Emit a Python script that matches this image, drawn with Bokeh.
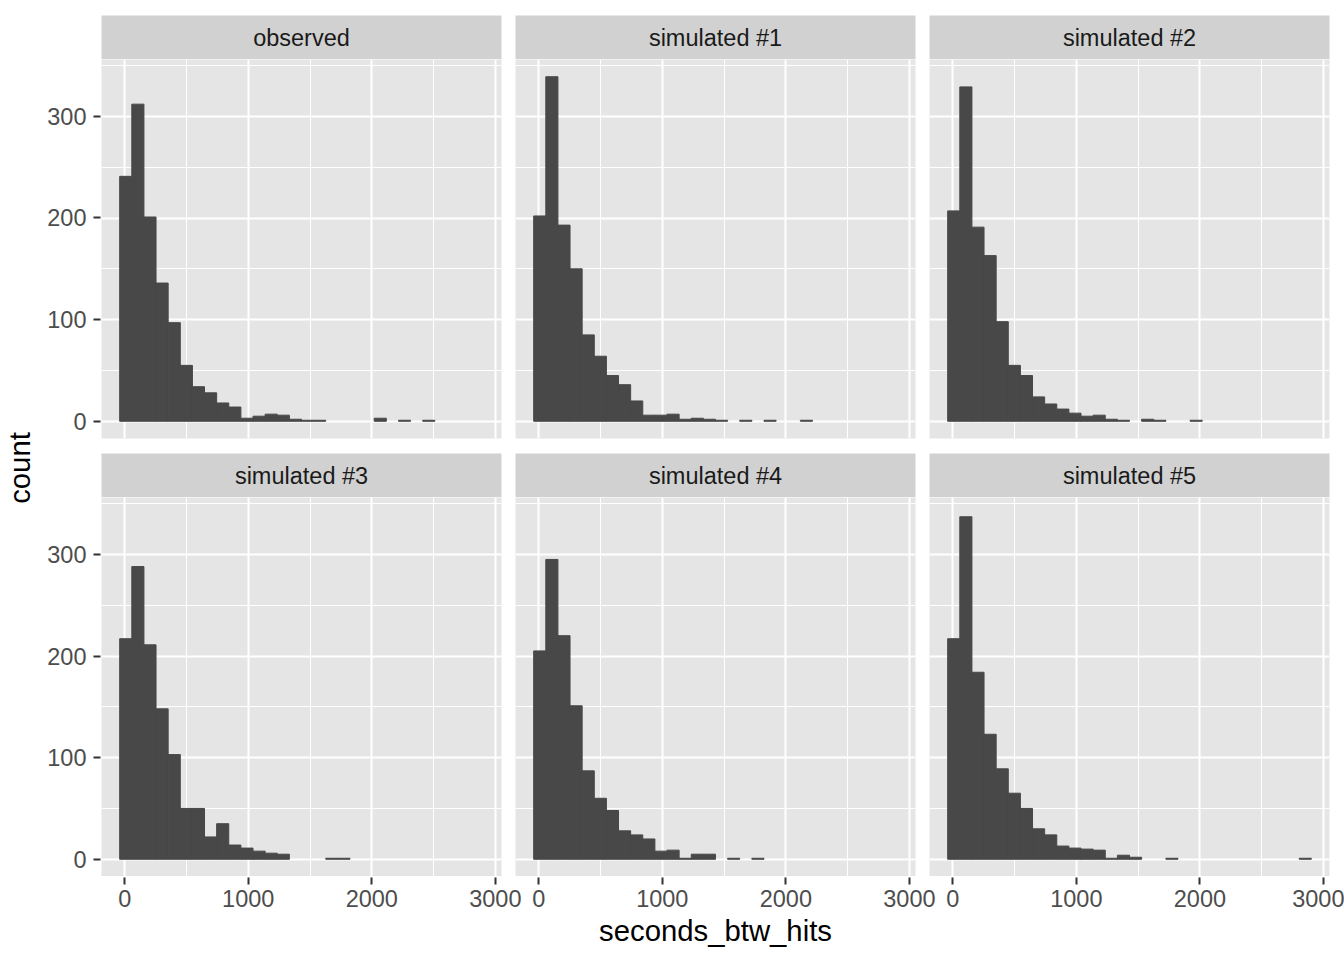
import numpy as np
from bokeh.plotting import figure
from bokeh.layouts import row, column
from bokeh.models import Range1d, Grid, FixedTicker, LinearAxis, Label, ColumnDataSource
from bokeh.embed import file_html
from bokeh.resources import INLINE

# ---------------- data ----------------
panel_names = ["observed", "simulated #1", "simulated #2",
               "simulated #3", "simulated #4", "simulated #5"]
bin_start = -40.5      # left edge of first bin (seconds)
bin_width = 98.1       # histogram bin width (30 bins)

observed = [241, 312, 201, 136, 97, 55, 34, 28, 18, 14, 3, 5, 7, 6, 2,
            1, 1, 0, 0, 0, 0, 3, 0, 1, 0, 1, 0, 0, 0, 0]
sim1 = [202, 339, 193, 150, 85, 64, 45, 36, 20, 6, 6, 7, 2, 3, 2,
        1, 0, 1, 0, 1, 0, 0, 1, 0, 0, 0, 0, 0, 0, 0]
sim2 = [207, 329, 191, 163, 98, 55, 45, 24, 17, 12, 8, 5, 6, 2, 1,
        0, 2, 1, 0, 0, 1, 0, 0, 0, 0, 0, 0, 0, 0, 0]
sim3 = [217, 288, 211, 148, 103, 50, 50, 22, 35, 14, 11, 8, 6, 5, 0,
        0, 0, 1, 1, 0, 0, 0, 0, 0, 0, 0, 0, 0, 0, 0]
sim4 = [205, 295, 220, 151, 87, 60, 48, 28, 24, 20, 8, 9, 1, 5, 5,
        0, 1, 0, 1, 0, 0, 0, 0, 0, 0, 0, 0, 0, 0, 0]
sim5 = [217, 337, 184, 123, 89, 65, 50, 30, 24, 13, 11, 10, 9, 1, 4,
        2, 0, 0, 1, 0, 0, 0, 0, 0, 0, 0, 0, 0, 0, 1]
series = [observed, sim1, sim2, sim3, sim4, sim5]

x_major = [0, 1000, 2000, 3000]
x_minor = [500, 1500, 2500]
x_tick_labels = ["0", "1000", "2000", "3000"]
y_major = [0, 100, 200, 300]
y_minor = [50, 150, 250, 350]
y_tick_labels = ["0", "100", "200", "300"]
x_title = "seconds_btw_hits"
y_title = "count"

# ---------------- style ----------------
PANEL_BG = "#E5E5E5"
STRIP_BG = "#D1D1D1"
BAR = "#484848"
FONT = "Liberation Sans"
TICK_FS = "23.5px"
TITLE_FS = "29.3px"

# ---------------- layout (pixels) ----------------
PANEL_W = 400
PANEL_H = 379
STRIP_H = 44
COL_GAP = 14
ROW_GAP = 15
LEFT_W = 101         # y-axis area
BOTTOM_H = 84        # x-axis area
TOP_PAD = 15
RIGHT_PAD = 15

# ---------------- scales ----------------
nb = len(observed)
edges = bin_start + bin_width * np.arange(nb + 1)
xspan = edges[-1] - edges[0]
X0, X1 = edges[0] - 0.05 * xspan, edges[-1] + 0.05 * xspan
ymax = max(max(s) for s in series)
Y0, Y1 = -0.05 * ymax, 1.05 * ymax


def base_fig(w, h, bl, br, bt, bb, xr, yr, bg):
    p = figure(width=w, height=h, x_range=xr, y_range=yr,
               x_axis_type=None, y_axis_type=None,
               toolbar_location=None, output_backend="svg",
               min_border_left=bl, min_border_right=br,
               min_border_top=bt, min_border_bottom=bb,
               background_fill_color=bg, border_fill_color="white",
               outline_line_color=None)
    return p


def panel_fig(counts, w, h, bl, br, bt, bb):
    p = base_fig(w, h, bl, br, bt, bb, Range1d(X0, X1), Range1d(Y0, Y1), PANEL_BG)
    p.add_layout(Grid(dimension=0, ticker=FixedTicker(ticks=x_major, minor_ticks=x_minor),
                      grid_line_color="white", grid_line_width=2,
                      minor_grid_line_color="white", minor_grid_line_width=1))
    p.add_layout(Grid(dimension=1, ticker=FixedTicker(ticks=y_major, minor_ticks=y_minor),
                      grid_line_color="white", grid_line_width=2,
                      minor_grid_line_color="white", minor_grid_line_width=1))
    edge_alpha = [1.0 if c > 0 else 0.0 for c in counts]
    src = ColumnDataSource(dict(left=edges[:-1], right=edges[1:], top=counts,
                                la=edge_alpha))
    p.quad(left="left", right="right", top="top", bottom=0, source=src,
           fill_color=BAR, line_color=BAR, line_width=1.0, line_alpha="la")
    return p


def strip_fig(name, w, h, bl, br, bt, bb):
    s = base_fig(w, h, bl, br, bt, bb, Range1d(0, 1), Range1d(0, 1), STRIP_BG)
    s.add_layout(Label(x=0.5, y=0.5, text=name, text_align="center",
                       text_baseline="middle", text_font=FONT,
                       text_font_size=TICK_FS, text_color="#1A1A1A"))
    return s


def style_axis(ax):
    ax.axis_line_color = None
    ax.major_tick_in = 0
    ax.major_tick_out = 7
    ax.major_tick_line_color = "#333333"
    ax.major_tick_line_width = 2
    ax.minor_tick_line_color = None
    ax.major_label_text_font = FONT
    ax.major_label_text_font_size = TICK_FS
    ax.major_label_text_color = "#4D4D4D"
    ax.axis_label_text_font = FONT
    ax.axis_label_text_font_size = TITLE_FS
    ax.axis_label_text_color = "black"
    ax.axis_label_text_font_style = "normal"


# column widths / borders: (width, border_left, border_right)
cols = [(PANEL_W + COL_GAP // 2, 0, COL_GAP // 2),
        (PANEL_W + COL_GAP, COL_GAP // 2, COL_GAP // 2),
        (PANEL_W + COL_GAP // 2 + RIGHT_PAD, COL_GAP // 2, RIGHT_PAD)]

top_strips = row(*[strip_fig(panel_names[i], cols[i][0], STRIP_H + TOP_PAD,
                             cols[i][1], cols[i][2], TOP_PAD, 0) for i in range(3)])
gap_top = ROW_GAP // 2
gap_bot = ROW_GAP - gap_top
top_panels = row(*[panel_fig(series[i], cols[i][0], PANEL_H + gap_top,
                             cols[i][1], cols[i][2], 0, gap_top) for i in range(3)])
bot_strips = row(*[strip_fig(panel_names[3 + i], cols[i][0], STRIP_H + gap_bot,
                             cols[i][1], cols[i][2], gap_bot, 0) for i in range(3)])
bot_panels = row(*[panel_fig(series[3 + i], cols[i][0], PANEL_H,
                             cols[i][1], cols[i][2], 0, 0) for i in range(3)])

# ---- shared x axis (one axis figure spanning the three columns) ----
sx = PANEL_W / (X1 - X0)
x_step = int(round((PANEL_W + COL_GAP) / sx))
GX1 = X0 + (3 * PANEL_W + 2 * COL_GAP) / sx
grid_w = sum(c[0] for c in cols)
bottom = base_fig(grid_w, BOTTOM_H, 0, RIGHT_PAD, 0, BOTTOM_H - 1,
                  Range1d(X0, GX1), Range1d(0, 1), "white")
xt, xo = [], {}
for k in range(3):
    for v, lab in zip(x_major, x_tick_labels):
        xt.append(v + k * x_step)
        xo[v + k * x_step] = lab
xax = LinearAxis(ticker=FixedTicker(ticks=xt), major_label_overrides=xo, axis_label=x_title)
style_axis(xax)
xax.major_label_standoff = 5
xax.axis_label_standoff = 4
bottom.add_layout(xax, "below")

# ---- shared y axis (one axis figure spanning the two rows) ----
sy = PANEL_H / (Y1 - Y0)
y_step = int(round((PANEL_H + ROW_GAP + STRIP_H) / sy))
GY1 = Y0 + (2 * PANEL_H + ROW_GAP + STRIP_H) / sy
total_h = (STRIP_H + TOP_PAD) + (PANEL_H + gap_top) + (STRIP_H + gap_bot) + PANEL_H + BOTTOM_H
left = base_fig(LEFT_W, total_h, LEFT_W - 1, 0, STRIP_H + TOP_PAD, BOTTOM_H,
                Range1d(0, 1), Range1d(Y0, GY1), "white")
yt, yo = [], {}
for k in range(2):
    for v, lab in zip(y_major, y_tick_labels):
        yt.append(v + k * y_step)
        yo[v + k * y_step] = lab
yax = LinearAxis(ticker=FixedTicker(ticks=yt), major_label_overrides=yo, axis_label=y_title)
style_axis(yax)
yax.major_label_standoff = 7
yax.axis_label_standoff = 8
left.add_layout(yax, "left")

page = row(left, column(top_strips, top_panels, bot_strips, bot_panels, bottom))

open("out.html", "w").write(file_html(page, INLINE))
